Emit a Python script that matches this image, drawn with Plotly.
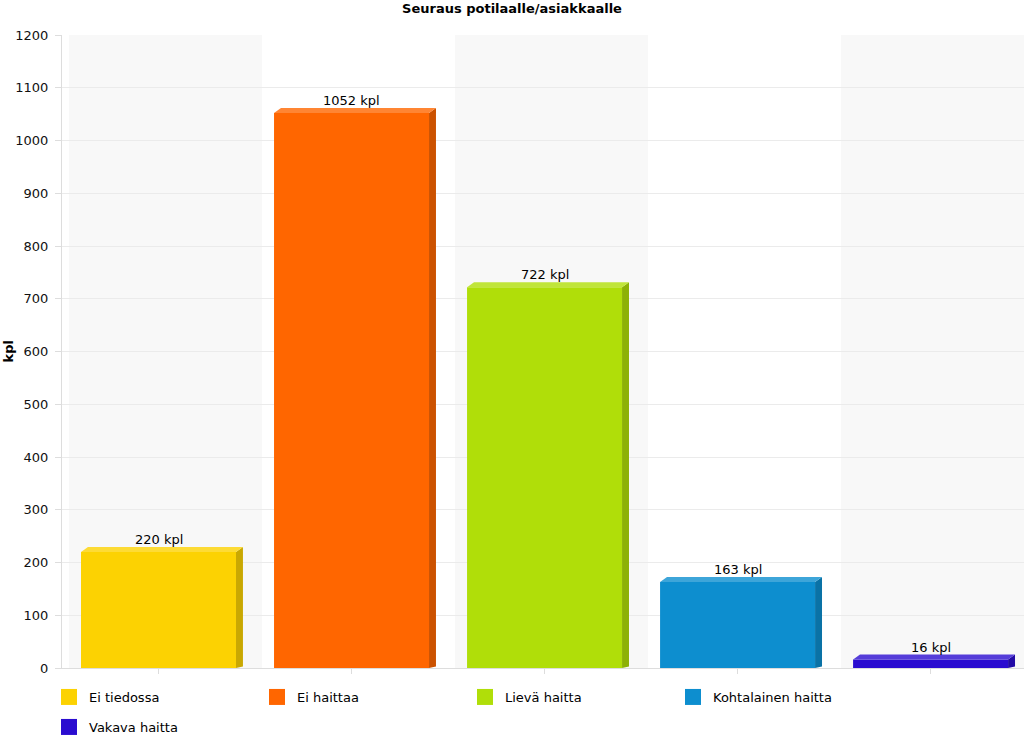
import plotly.graph_objects as go

categories = ["Ei tiedossa", "Ei haittaa", "Lievä haitta", "Kohtalainen haitta", "Vakava haitta"]
values = [220, 1052, 722, 163, 16]
labels = ["220 kpl", "1052 kpl", "722 kpl", "163 kpl", "16 kpl"]
colors = ["#FCD202", "#FF6600", "#B0DE09", "#0D8ECF", "#2A0CD0"]
side_colors = ["#C9A802", "#CC5200", "#8DB107", "#0A72A6", "#220AA6"]
top_colors = ["#FDDB35", "#FF8533", "#C0E53A", "#3DA5D9", "#553DD9"]

FONT = "DejaVu Sans, Verdana, sans-serif"
W = 0.803      # bar width in category units
DX = 0.036     # 3D depth (x, category units)
DY = 9.5       # 3D depth (y, value units)

fig = go.Figure()

# background alternating bands
shapes = []
for i in range(len(categories)):
    if i % 2 == 0:
        shapes.append(dict(type="rect", xref="x", yref="paper",
                           x0=i - 0.5 + DX, x1=i + 0.5 + DX, y0=0, y1=1,
                           fillcolor="#F8F8F8", line=dict(width=0), layer="below"))

for i, (c, v) in enumerate(zip(categories, values)):
    fig.add_trace(go.Bar(x=[i], y=[v], width=W, name=c, showlegend=False,
                         marker=dict(color=colors[i], line=dict(width=0)),
                         hoverinfo="skip"))

for i, v in enumerate(values):
    xl, xr = i - W / 2, i + W / 2
    # side face
    fig.add_trace(go.Scatter(x=[xr, xr + DX, xr + DX, xr, xr],
                             y=[0, DY * 0.3, v + DY, v, 0],
                             fill="toself", fillcolor=side_colors[i], mode="lines",
                             line=dict(width=0, color=side_colors[i]),
                             showlegend=False, hoverinfo="skip"))
    # top face
    fig.add_trace(go.Scatter(x=[xl, xl + DX, xr + DX, xr, xl],
                             y=[v, v + DY, v + DY, v, v],
                             fill="toself", fillcolor=top_colors[i], mode="lines",
                             line=dict(width=0, color=top_colors[i]),
                             showlegend=False, hoverinfo="skip"))

# legend entries (legend-only proxies with square symbols)
for i, c in enumerate(categories):
    fig.add_trace(go.Scatter(x=[None], y=[None], mode="markers", name=c,
                             marker=dict(symbol="square", size=16, color=colors[i],
                                         line=dict(width=0)),
                             legend="legend" if i < 4 else "legend2",
                             hoverinfo="skip"))

annotations = []
for i, (v, t) in enumerate(zip(values, labels)):
    annotations.append(dict(x=i, y=v, xref="x", yref="y", text=t, showarrow=False,
                            yanchor="bottom", yshift=3,
                            font=dict(family=FONT, size=13, color="#000")))
annotations.append(dict(xref="paper", yref="paper", x=(8 - 62) / 962, y=0.5,
                        text="<b>kpl</b>", textangle=-90, showarrow=False,
                        xanchor="center", yanchor="middle",
                        font=dict(family=FONT, size=13, color="#000")))

legend_common = dict(orientation="h", xanchor="left", yanchor="middle",
                     entrywidth=163, entrywidthmode="pixels",
                     font=dict(family=FONT, size=13, color="#000"),
                     itemsizing="trace", bgcolor="rgba(0,0,0,0)")
PLOT_H = 744 - 35 - 76
leg_x = -13 / 962

fig.update_layout(
    width=1024, height=744,
    margin=dict(l=62, r=0, t=35, b=76, autoexpand=False),
    paper_bgcolor="white", plot_bgcolor="white",
    barmode="overlay",
    font=dict(family=FONT, size=13, color="#000"),
    title=dict(text="<b>Seuraus potilaalle/asiakkaalle</b>", x=0.5, xanchor="center",
               y=1 - 8 / 744, yanchor="middle",
               font=dict(family=FONT, size=13, color="#000")),
    xaxis=dict(range=[-0.5, 4.484], showticklabels=False, showgrid=False,
               zeroline=False, showline=True, linecolor="#DDDDDD",
               ticks="outside", tickvals=list(range(len(categories))),
               ticklen=5, tickcolor="#DDDDDD", fixedrange=True),
    yaxis=dict(range=[0, 1200], dtick=100, showgrid=True, gridcolor="#EBEBEB",
               zeroline=False, showline=True, linecolor="#DDDDDD",
               ticks="outside", ticklen=6, tickcolor="#DDDDDD",
               ticklabelstandoff=4,
               tickfont=dict(family=FONT, size=13, color="#111")),
    legend=dict(x=leg_x, y=-(697 - 668) / PLOT_H, **legend_common),
    legend2=dict(x=leg_x, y=-(727 - 668) / PLOT_H, **legend_common),
    shapes=shapes,
    annotations=annotations,
    showlegend=True,
)

fig.write_html("out.html",
               config={"displayModeBar": False},
               post_script="document.body.style.margin='0';document.body.style.overflow='hidden';")
